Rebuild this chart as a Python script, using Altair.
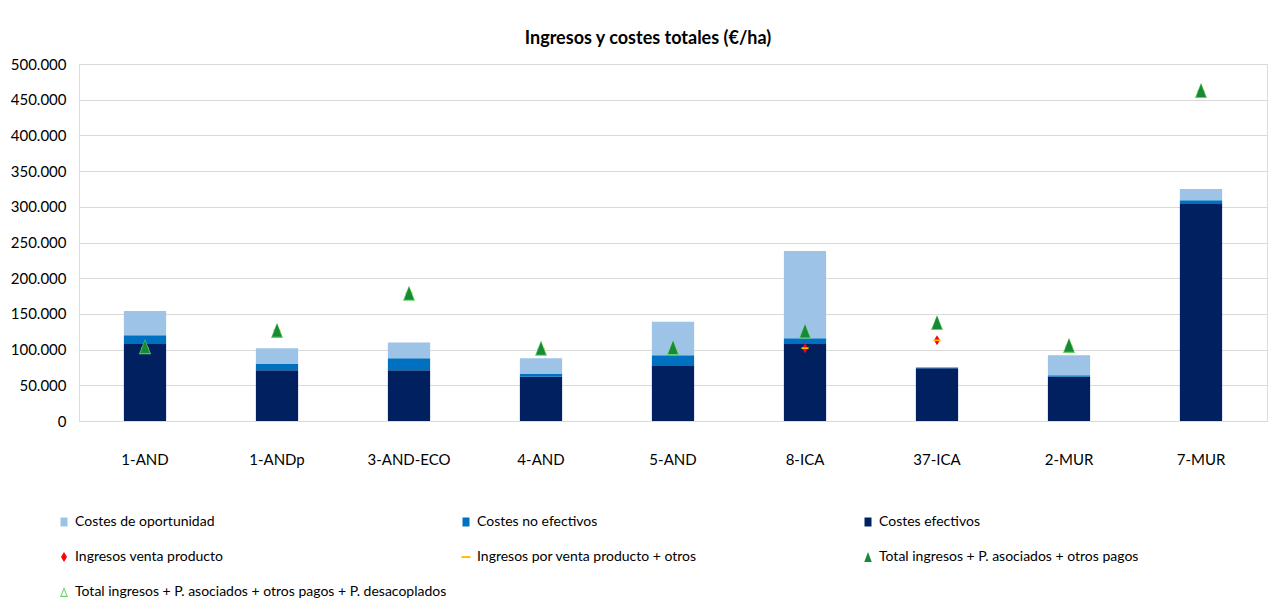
import altair as alt
import pandas as pd

FONT = "Lato"

categorias = ["1-AND", "1-ANDp", "3-AND-ECO", "4-AND", "5-AND", "8-ICA", "37-ICA", "2-MUR", "7-MUR"]

costes_efectivos = [109000, 71000, 71000, 62000, 78000, 109000, 74000, 62000, 305000]
costes_no_efectivos = [11000, 9000, 17000, 4000, 14000, 7000, 1000, 2000, 4000]
costes_oportunidad = [34000, 22000, 22000, 22000, 47000, 122000, 0, 28000, 16000]

ingresos_venta = [102000, 127000, 179000, 101000, 102000, 102000, 113000, 105000, 462000]
ingresos_venta_otros = [102000, 127000, 179000, 101000, 102000, 102000, 113000, 105000, 462000]
total_ingresos_asoc = [104000, 127000, 179000, 102000, 103000, 126000, 138000, 106000, 463000]
total_ingresos_desac = [104000, 127000, 179000, 102000, 103000, 126000, 138000, 106000, 463000]

y_ticks = [0, 50000, 100000, 150000, 200000, 250000, 300000, 350000, 400000, 450000, 500000]

S_OP = "Costes de oportunidad"
S_NE = "Costes no efectivos"
S_EF = "Costes efectivos"
S_IV = "Ingresos venta producto"
S_IO = "Ingresos por venta producto + otros"
S_TA = "Total ingresos + P. asociados + otros pagos"
S_TD = "Total ingresos + P. asociados + otros pagos + P. desacoplados"

dominio = [S_OP, S_NE, S_EF, S_IV, S_IO, S_TA, S_TD]
colores = ["#9DC3E6", "#0070C0", "#002060", "#FF0000", "#FFC000", "#178A37", "#66D466"]

RECT = "M-0.7,-0.9L0.7,-0.9L0.7,0.9L-0.7,0.9Z"
DIAM = "M0,-1L0.6,0L0,1L-0.6,0Z"
DASH = "M-0.9,-0.2L0.9,-0.2L0.9,0.2L-0.9,0.2Z"
TRI = "M0,-1L0.75,1L-0.75,1Z"
HOLLOW = "M0,-1L0.8,1L-0.8,1Z M0,-0.45L-0.5,0.75L0.5,0.75Z"
formas = [RECT, RECT, RECT, DIAM, DASH, TRI, HOLLOW]

rows = []
for orden, (serie, vals) in enumerate([(S_EF, costes_efectivos), (S_NE, costes_no_efectivos), (S_OP, costes_oportunidad)]):
    for c, v in zip(categorias, vals):
        rows.append({"categoria": c, "serie": serie, "valor": v, "orden": orden})
bars_df = pd.DataFrame(rows)

prow = []
for serie, vals in [(S_IV, ingresos_venta), (S_IO, ingresos_venta_otros), (S_TD, total_ingresos_desac), (S_TA, total_ingresos_asoc)]:
    for c, v in zip(categorias, vals):
        prow.append({"categoria": c, "serie": serie, "valor": v})
pts_df = pd.DataFrame(prow)

legend = alt.Legend(
    title=None, orient="none", legendX=-22, legendY=451, columns=3, direction="horizontal",
    gridAlign="all", columnPadding=12, rowPadding=21, symbolSize=100, symbolStrokeWidth=0,
    labelFont=FONT, labelFontSize=14, labelColor="#000000", labelLimit=600, labelOffset=4,
    padding=0,
)

color = alt.Color("serie:N", scale=alt.Scale(domain=dominio, range=colores), legend=legend)
shape = alt.Shape("serie:N", scale=alt.Scale(domain=dominio, range=formas), legend=legend)

x_axis = alt.Axis(labelAngle=0, ticks=False, tickSize=0, domain=False, grid=False,
                  labelPadding=31, labelFont=FONT, labelFontSize=15, labelColor="#000000")
x_scale = alt.Scale(paddingInner=0.68, paddingOuter=0.34)
y_axis = alt.Axis(values=y_ticks, tickCount=20, ticks=False, tickSize=0, domain=False, grid=True,
                  gridColor="#D9D9D9", gridWidth=1, labelPadding=13, minExtent=66, maxExtent=66,
                  labelOverlap=False, labelFont=FONT, labelFontSize=15, labelColor="#000000",
                  labelExpr="datum.value == 0 ? '0' : replace(format(datum.value, ',.0f'), ',', '.')")
y_scale = alt.Scale(domain=[0, 500000], nice=False)

bars = alt.Chart(bars_df).mark_bar(stroke=None).encode(
    x=alt.X("categoria:N", sort=categorias, title=None, scale=x_scale, axis=x_axis),
    y=alt.Y("valor:Q", title=None, stack="zero", scale=y_scale, axis=y_axis),
    color=color,
    order=alt.Order("orden:Q"),
)

def point_layer(serie, size):
    return alt.Chart(pts_df).transform_filter(alt.datum.serie == serie).mark_point(
        filled=True, size=size, opacity=1, strokeWidth=0
    ).encode(
        x=alt.X("categoria:N", sort=categorias, title=None, scale=x_scale, axis=x_axis),
        y=alt.Y("valor:Q", title=None, stack=None, scale=y_scale, axis=y_axis),
        color=color, shape=shape,
    )

chart = alt.layer(
    bars,
    point_layer(S_IV, 100),
    point_layer(S_IO, 64),
    point_layer(S_TD, 230),
    point_layer(S_TA, 169),
).properties(
    width=1188, height=357,
    title=alt.Title("Ingresos y costes totales (€/ha)", font=FONT, fontSize=18, fontWeight="bold",
                    color="#000000", anchor="middle", dx=-25, offset=9),
    padding={"top": 22, "left": 2, "right": 5, "bottom": 5},
).configure_view(stroke=None).configure(background="white")

chart.save("out.html", embed_options={"renderer": "svg", "actions": False})
